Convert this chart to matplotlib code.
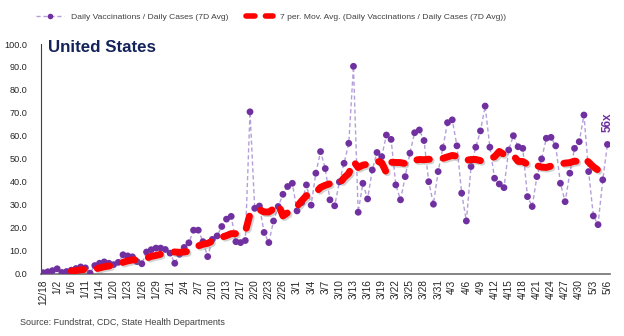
import matplotlib.pyplot as plt
import matplotlib.patheffects as pe
import numpy as np
import pandas as pd

plt.rcParams["font.family"] = ["Liberation Sans Narrow", "Liberation Sans", "DejaVu Sans"]

# tick labels, one every third observation
tick_labels = [
    "12/18", "1/2", "1/6", "1/11", "1/14", "1/20", "1/23", "1/26", "1/29",
    "2/1", "2/4", "2/7", "2/10", "2/13", "2/17", "2/20", "2/23", "2/26",
    "3/1", "3/4", "3/7", "3/10", "3/13", "3/16", "3/19", "3/22", "3/25",
    "3/28", "3/31", "4/3", "4/6", "4/9", "4/12", "4/15", "4/18", "4/21",
    "4/24", "4/27", "4/30", "5/3", "5/6",
]

# daily vaccinations / daily cases ratio (7D avg)
ratio = [
    0.5, 0.9, 1.4, 2.2, 0.6, 1.0, 1.6, 2.3, 3.0, 2.6,
    0.3, 3.6, 4.6, 5.2, 4.6, 4.0, 5.0, 8.3, 7.8, 7.4,
    5.3, 4.4, 9.5, 10.5, 11.2, 11.2, 10.6, 9.0, 4.6, 8.5,
    11.5, 13.5, 19.0, 19.0, 14.0, 7.5, 15.0, 16.5, 20.6, 23.8,
    25.0, 14.0, 13.6, 14.5, 70.5, 28.5, 29.5, 18.0, 13.6, 23.0,
    29.3, 34.6, 38.0, 39.4, 27.4, 31.0, 38.7, 29.9, 43.8, 53.2,
    45.8, 32.2, 29.6, 40.0, 48.1, 56.8, 90.3, 26.8, 39.4, 32.6,
    45.2, 52.8, 51.0, 60.4, 58.5, 38.7, 32.2, 42.3, 52.5, 61.4,
    62.6, 58.0, 40.1, 30.3, 44.5, 54.9, 65.8, 67.0, 55.7, 35.1,
    23.0, 46.7, 55.1, 62.2, 73.0, 55.1, 41.6, 39.1, 37.5, 53.9,
    60.1, 55.3, 54.6, 33.6, 29.3, 42.3, 50.0, 59.0, 59.4, 55.7,
    39.4, 31.4, 43.8, 54.6, 57.5, 69.1, 44.5, 25.2, 21.4, 40.9,
    56.3,
]

x = np.arange(len(ratio))
moving_avg = pd.Series(ratio).rolling(7).mean()

purple = "#7030A0"
shadow = [pe.SimpleLineShadow(offset=(1.2, -1.2), shadow_color="#808080", alpha=0.35), pe.Normal()]
ma_dash = (0, (1.8, 2.0))

fig = plt.figure(figsize=(6.24, 3.36), dpi=100)
ax = fig.add_axes([0.066, 0.185, 0.912, 0.684])

ax.plot(x, ratio, color="#B49FD9", linewidth=1.0, linestyle=(0, (3, 2)), zorder=2)
ax.plot(x, ratio, linestyle="none", marker="o", markersize=4.9, color=purple,
        markeredgewidth=0, zorder=3, path_effects=shadow)
ax.plot(x, moving_avg, color="#FF0000", linewidth=5, linestyle=ma_dash,
        dash_capstyle="round", zorder=4, path_effects=shadow)

# legend handles
h1, = ax.plot([], [], color="#B49FD9", linewidth=1.0, linestyle=(0, (3, 2)),
              marker="o", markersize=4, markerfacecolor=purple, markeredgewidth=0)
h2, = ax.plot([], [], color="#FF0000", linewidth=4, linestyle=(0, (1.6, 1.9)),
              dash_capstyle="round")
fig.legend([h1, h2],
           ["Daily Vaccinations / Daily Cases (7D Avg)",
            "7 per. Mov. Avg. (Daily Vaccinations / Daily Cases (7D Avg))"],
           loc="center", bbox_to_anchor=(0.435, 0.948), ncol=2, frameon=False,
           fontsize=6.1, handlelength=3.2, handletextpad=0.9, columnspacing=2.0,
           labelcolor="#404040")

ax.set_xlim(-0.4, 120.6)
ax.set_ylim(0, 100)
ax.set_yticks(np.arange(0, 101, 10))
ax.set_yticklabels([f"{v:.1f}" for v in np.arange(0, 101, 10)], fontsize=6.6, color="#262626")
ax.set_xticks(np.arange(0, len(ratio), 3))
ax.set_xticklabels(tick_labels, rotation=90, fontsize=7.3, color="#262626")
ax.tick_params(axis="y", length=0, pad=10)
ax.tick_params(axis="x", length=0, pad=4)

for side in ["top", "right"]:
    ax.spines[side].set_visible(False)
ax.spines["left"].set_color("#404040")
ax.spines["bottom"].set_color("#707070")
ax.spines["bottom"].set_linewidth(1.2)

ax.text(0.012, 0.985, "United States", transform=ax.transAxes, fontsize=12.2,
        fontweight="bold", color="#14235A", va="center", ha="left")

ax.annotate(f"{ratio[-1]:.0f}x", (x[-1], ratio[-1]), xytext=(0, 9),
            textcoords="offset points", rotation=90, ha="center", va="bottom",
            fontsize=8.5, fontweight="bold", color=purple)

fig.text(0.032, 0.04, "Source: Fundstrat, CDC, State Health Departments",
         fontsize=6.5, color="#404040", ha="left", va="center")

fig.savefig("out.png", dpi=100)
